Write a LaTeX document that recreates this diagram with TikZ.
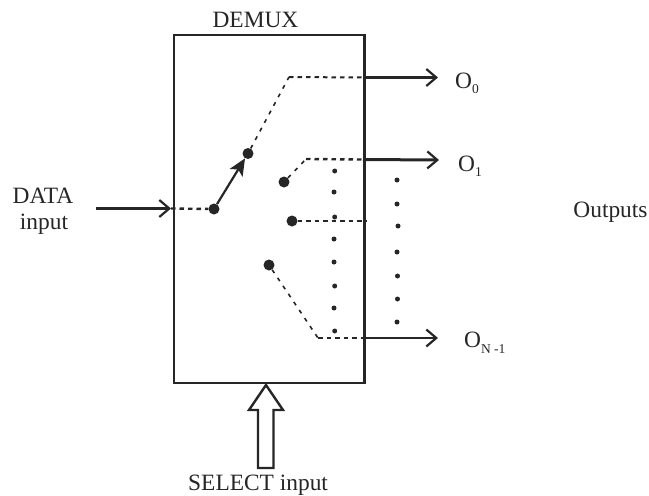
\documentclass[tikz,border=0pt]{standalone}
\usepackage{fontspec}
\setmainfont{Liberation Serif}
\usetikzlibrary{arrows.meta}
\newcommand{\subtxt}[2][-5.5pt]{\raisebox{#1}{\fontsize{13.5}{14}\selectfont #2}}
\begin{document}
\begin{tikzpicture}[x=1pt,y=-1pt,
 box/.style={draw=black!85,line width=2.4pt},
 thickdash/.style={draw=black!85,line width=2.4pt,dash pattern=on 4.5pt off 4pt},
 middash/.style={draw=black!85,line width=2pt,dash pattern=on 4.5pt off 4pt},
 thindash/.style={draw=black!85,line width=1.6pt,dash pattern=on 4pt off 5.7pt},
 outarrow/.style={draw=black!85,line width=3pt,-{Straight Barb[length=10pt,width=17pt,line width=2.2pt]}},
 thinarrow/.style={draw=black!85,line width=2.2pt,-{Straight Barb[length=10pt,width=17pt,line width=2.2pt]}},
 bigdot/.style={circle,fill=black!85,inner sep=0pt,minimum size=11pt},
 smalldot/.style={circle,fill=black!85,inner sep=0pt,minimum size=5pt},
 lab/.style={font=\fontsize{23.4}{25}\selectfont,inner sep=0pt,text=black!85}]
\useasboundingbox (0,0) rectangle (649,496);
\node[box,minimum width=190.5pt,minimum height=347.5pt,inner sep=0pt,anchor=north west] (demux) at (172.8,34) {};
\node[lab,anchor=base] (title) at (255.5,27) {DEMUX};
\node[lab,anchor=base] (data) at (43,203) {DATA};
\node[lab,anchor=base] (datab) at (44,229) {input};
\node[lab,anchor=base] (outputs) at (610.5,217) {Outputs};
\node[lab,anchor=base west] (select) at (188,490.5) {SELECT input};
\node[lab,anchor=base west] (o0) at (455,88) {O\subtxt{0}};
\node[lab,anchor=base west] (o1) at (458,171) {O\subtxt{1}};
\node[lab,anchor=base west] (on) at (464,347.5) {O\subtxt{N -1}};
\node[bigdot] (s) at (214,209) {};
\node[bigdot] (a) at (248,153.5) {};
\node[bigdot] (b) at (284,182) {};
\node[bigdot] (c) at (292,221) {};
\node[bigdot] (d) at (269,265) {};
\coordinate (inL) at (96,208.5);
\coordinate (inB) at (171,208.5);
\coordinate (k0) at (289,77);
\coordinate (e0) at (363,77.5);
\coordinate (t0) at (438,77.5);
\coordinate (k1) at (306,159);
\coordinate (e1) at (363,159.5);
\coordinate (t1) at (439,160);
\coordinate (c1) at (366,221);
\coordinate (k2) at (318,338);
\coordinate (e2) at (363,338);
\coordinate (t2) at (438,338);
\draw[outarrow] (inL) -- (inB);
\draw[thickdash] (inB) -- (s);
\draw[draw=black!85,line width=2.2pt,-{Stealth[length=17pt,width=15pt,inset=4pt]}] (s) -- (a);
\draw[thindash] (a) -- (k0);
\draw[middash] (k0) -- (e0);
\draw[outarrow] (e0) -- (t0);
\draw[thindash] (b) -- (k1);
\draw[thickdash] (k1) -- (e1);
\draw[outarrow] (e1) -- (t1);
\draw[middash] (c) -- (c1);
\draw[thindash] (d) -- (k2);
\draw[thickdash] (k2) -- (e2);
\draw[thinarrow] (e2) -- (t2);
\foreach \n/\x/\y in {p1/334.7/171,p2/334/192,p3/334.7/217,p4/334/239,p5/334/262,p6/334.7/286,p7/334/308,p8/334.7/331,q1/397/180,q2/397/204,q3/398/226,q4/397/252,q5/397.5/276,q6/397.5/299,q7/397/322}
  \node[smalldot] (\n) at (\x,\y) {};
\draw[draw=black!85,line width=2.4pt,fill=white,line join=miter]
 (266,385) -- (283,410) -- (273.5,410) -- (273.5,468) -- (258,468) -- (258,410) -- (249,410) -- cycle;
\end{tikzpicture}
\end{document}
